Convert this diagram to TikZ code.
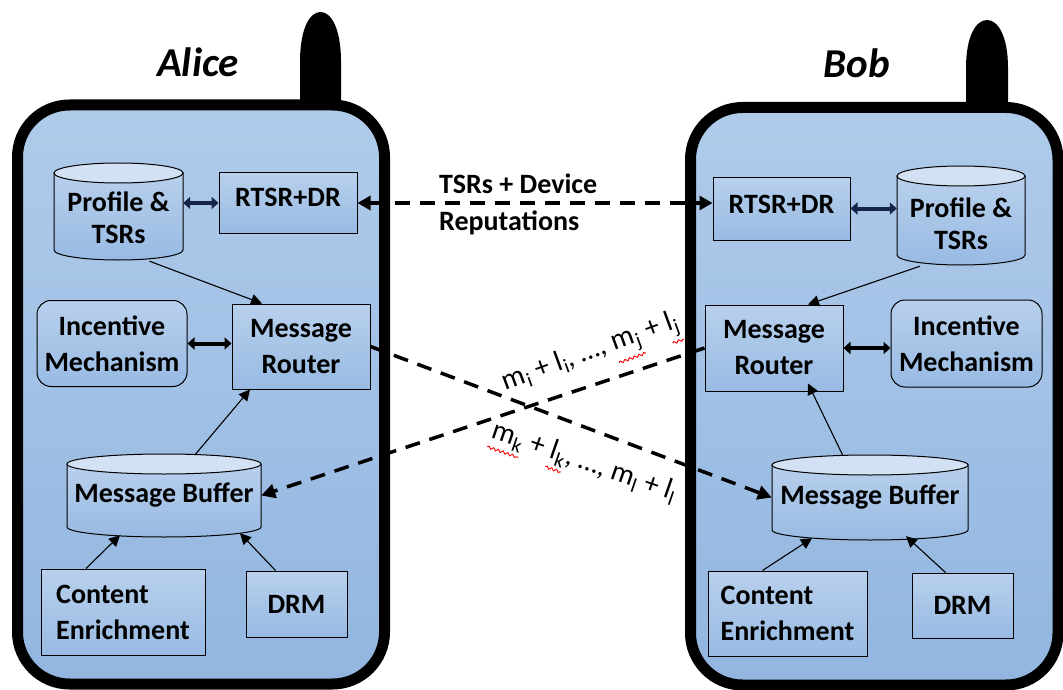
\documentclass[tikz,border=0pt]{standalone}
\usepackage{fontspec}
\setmainfont{Carlito}
\usetikzlibrary{arrows.meta,calc,decorations.pathmorphing}

\definecolor{phonetop}{HTML}{B0CBEA}
\definecolor{phonebot}{HTML}{92B6E0}
\definecolor{boxtop}{HTML}{B8D0EC}
\definecolor{boxbot}{HTML}{98BAE3}
\definecolor{captop}{HTML}{D2E2F4}
\definecolor{navy}{HTML}{15264A}

\tikzset{
  phone/.style={draw=black, line width=11pt, rounded corners=52pt,
    top color=phonetop, bottom color=phonebot},
  antenna/.style={fill=black, draw=none},
  who/.style={font=\fontsize{41}{44}\selectfont\bfseries\itshape},
  blk/.style={draw=black, line width=1pt, top color=boxtop, bottom color=boxbot,
    font=\fontsize{28}{36}\selectfont\bfseries, align=center, inner sep=0pt},
  rblk/.style={blk, rounded corners=14pt},
  cyltxt/.style={font=\fontsize{28}{32}\selectfont\bfseries, align=center, inner sep=0pt},
  cylbody/.style={draw=black, line width=1pt, top color=boxtop, bottom color=boxbot},
  cyltop/.style={draw=black, line width=1pt, fill=captop},
  thinarr/.style={draw=black, line width=1.1pt, -{Triangle[length=11pt,width=11pt]}},
  dblnavy/.style={draw=navy, line width=4pt, {Triangle[length=7pt,width=12pt]}-{Triangle[length=7pt,width=12pt]}},
  dblblack/.style={draw=black, line width=4pt, {Triangle[length=7pt,width=12pt]}-{Triangle[length=7pt,width=12pt]}},
  dasharr/.style={draw=black, line width=3.5pt, dash pattern=on 15pt off 10pt},
  msglbl/.style={font=\fontsize{29}{32}\selectfont, inner sep=0pt},
  tsrlbl/.style={font=\fontsize{28}{37}\selectfont\bfseries, align=left, inner sep=0pt},
  squigline/.style={draw=red, line width=0.9pt, decorate,
    decoration={snake, amplitude=1.3pt, segment length=5pt}}
}

% red wavy underline (spell-check mark, as in the picture)
\newcommand\squig[1]{\tikz[baseline=(sq.base), x=1pt, y=1pt]{%
  \node[inner sep=0pt, outer sep=0pt] (sq) {#1};
  \draw[squigline] ([yshift=-4pt]sq.south west) -- ([yshift=-4pt]sq.south east);}}

% cylinder: #1 name, #2 x1, #3 x2, #4 y of top ellipse centre, #5 y of bottom ellipse centre, #6 text
\newcommand\drawcyl[6]{%
  \pgfmathsetmacro\cx{(#2+#3)/2}%
  \pgfmathsetmacro\rx{(#3-#2)/2}%
  \pgfmathsetmacro\kx{0.5523*\rx}%
  \path[cylbody] (#2,#4) -- (#2,#5)
     .. controls (#2,#5+5.523) and (\cx-\kx,#5+10) .. (\cx,#5+10)
     .. controls (\cx+\kx,#5+10) and (#3,#5+5.523) .. (#3,#5)
     -- (#3,#4) -- cycle;
  \path[cyltop] (\cx,#4) ellipse [x radius=\rx pt, y radius=10pt];
  \node[cyltxt, minimum width=#3pt-#2pt, minimum height=#5pt-#4pt+20pt]
     (#1) at (\cx,{(#4+#5)/2}) {#6};
}

\begin{document}
\begin{tikzpicture}[x=1pt,y=-1pt]
\useasboundingbox (0,0) rectangle (1063,690);

% antennas
\path[antenna] (300,112) -- (300,62) .. controls (300,28) and (310,12) .. (320.5,12)
   .. controls (331,12) and (341,28) .. (341,62) -- (341,112) -- cycle;
\path[antenna] (966,115) -- (966,68) .. controls (966,36) and (976,20) .. (987,20)
   .. controls (998,20) and (1008,36) .. (1008,68) -- (1008,115) -- cycle;

% phones
\path[phone] (17.5,105) rectangle (384.5,684);
\path[phone] (690.5,107.5) rectangle (1058,685);

\node[who] (alice) at (198,62) {Alice};
\node[who] (bob) at (857,63) {Bob};

% ---------- Alice ----------
\drawcyl{lprof}{54}{183}{173}{250}{\rule{0pt}{33pt}Profile \&\\TSRs}
\node[blk, minimum width=138pt, minimum height=61pt] (lrtsr) at (288,203) {\rule[-11pt]{0pt}{11pt}RTSR+DR};
\node[rblk, minimum width=150pt, minimum height=86pt] (linc) at (112,343.5) {Incentive\\Mechanism};
\node[blk, minimum width=138pt, minimum height=85pt] (lrouter) at (301,346.5) {Message\\Router};
\drawcyl{lbuf}{67}{261}{464}{527}{Message Buffer}
\node[blk, align=left, minimum width=164pt, minimum height=86pt] (lce) at (123,612) {Content\\Enrichment};
\node[blk, minimum width=101pt, minimum height=66pt] (ldrm) at (296.5,604) {DRM};

\draw[dblnavy] (lprof.east |- lrtsr.west) -- (lrtsr.west);
\draw[dblblack] (linc.east) -- (linc.east -| lrouter.west);
\draw[thinarr] ([xshift=31pt,yshift=-1pt]lprof.south) -- ([xshift=-39pt]lrouter.north);
\draw[thinarr] ([xshift=31pt,yshift=-1pt]lbuf.north) -- ([xshift=-51pt]lrouter.south);
\draw[thinarr] ([xshift=-37pt]lce.north) -- ([xshift=-44pt,yshift=2pt]lbuf.south);
\draw[thinarr] ([xshift=-21pt]ldrm.north) -- ([xshift=76pt,yshift=4pt]lbuf.south);

% ---------- Bob ----------
\node[blk, minimum width=137pt, minimum height=63pt] (rrtsr) at (781.5,208.5) {\rule[-8pt]{0pt}{8pt}RTSR+DR};
\drawcyl{rprof}{897}{1025}{176}{255}{\rule{0pt}{36pt}Profile \&\\TSRs}
\node[blk, minimum width=138pt, minimum height=86pt] (rrouter) at (774,348) {Message\\Router};
\node[rblk, minimum width=151pt, minimum height=87pt] (rinc) at (966.5,343.5) {Incentive\\Mechanism};
\drawcyl{rbuf}{772}{968}{465}{530}{Message Buffer}
\node[blk, align=left, minimum width=159pt, minimum height=85pt] (rce) at (787.5,613.5) {Content\\Enrichment};
\node[blk, minimum width=101pt, minimum height=65pt] (rdrm) at (962.5,605.5) {DRM};

\draw[dblnavy] (rrtsr.east) -- (rrtsr.east -| rprof.west);
\draw[dblblack] (rrouter.east) -- (rrouter.east -| rinc.west);
\draw[thinarr] ([xshift=-41pt,yshift=-1pt]rprof.south) -- ([xshift=34pt]rrouter.north);
\draw[thinarr] ([xshift=-27pt,yshift=-1pt]rbuf.north) -- ([xshift=34pt,yshift=8pt]rrouter.south);
\draw[thinarr] ([xshift=-25pt]rce.north) -- ([xshift=-58pt,yshift=2pt]rbuf.south);
\draw[thinarr] ([xshift=-17pt]rdrm.north) -- ([xshift=36pt,yshift=4pt]rbuf.south);

% ---------- between the phones ----------
\draw[dasharr, {Triangle[length=13pt,width=14pt]}-{Triangle[length=13pt,width=14pt]}]
   (lrtsr.east) -- (lrtsr.east -| rrtsr.west);
\node[tsrlbl, anchor=west] (tsr) at (439,204) {TSRs + Device\\Reputations};

\draw[dasharr, -{Triangle[length=14pt,width=14pt]}] (lrouter.east) -- (rbuf.west);
\draw[dasharr, -{Triangle[length=14pt,width=14pt]}] (rrouter.west) -- (lbuf.west -| lbuf.east);

\node[msglbl, rotate=20] (lbl1) at (592,356)
  {m\textsubscript{i} + l\textsubscript{i}, …, \squig{m\textsubscript{j}} + \squig{l\textsubscript{j}}};
\node[msglbl, rotate=-19] (lbl2) at (583,465)
  {\squig{m\textsubscript{k}} + \squig{l\textsubscript{k}}, …, m\textsubscript{l} + l\textsubscript{l}};
\end{tikzpicture}
\end{document}
